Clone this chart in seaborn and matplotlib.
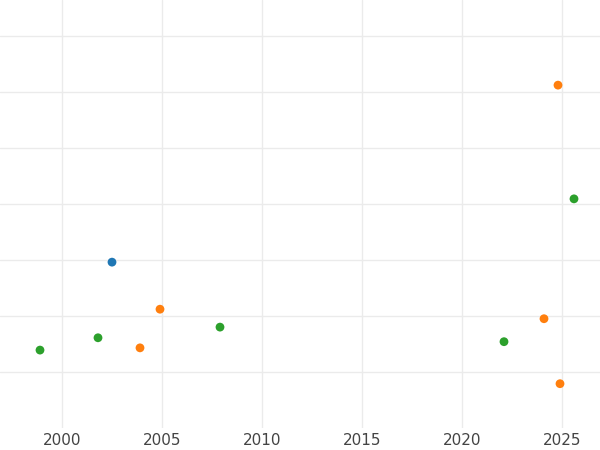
import matplotlib
matplotlib.use("Agg")
import matplotlib.pyplot as plt
import seaborn as sns
import pandas as pd

years = [2002.5, 2024.8, 2004.9, 2003.9, 2024.1, 2024.9,
         2025.6, 1998.9, 2001.8, 2007.9, 2022.1]
values = [2.96, 6.12, 2.12, 1.43, 1.95, 0.79,
          4.09, 1.39, 1.61, 1.80, 1.54]
groups = ["a", "b", "b", "b", "b", "b",
          "c", "c", "c", "c", "c"]

df = pd.DataFrame({"year": years, "value": values, "group": groups})

sns.set_style("whitegrid")
fig = plt.figure(figsize=(6, 4.5), dpi=100)
ax = fig.add_axes([0, 0.049, 1, 0.951])
sns.scatterplot(data=df, x="year", y="value", hue="group",
                palette=["#1f77b4", "#ff7f0e", "#2ca02c"],
                s=40, linewidth=0, legend=False, ax=ax)

ax.set_xlim(1996.9, 2026.9)
ax.set_ylim(0, 7.64)
ax.set_xticks([2000, 2005, 2010, 2015, 2020, 2025])
ax.set_yticks(range(1, 8))
ax.set_yticklabels([])
ax.tick_params(axis="x", labelsize=11, colors="#444444", length=0)
ax.tick_params(axis="y", length=0)
ax.grid(color="#ebebeb", linewidth=1)
for s in ax.spines.values():
    s.set_visible(False)
ax.set_xlabel("")
ax.set_ylabel("")
fig.savefig("out.png")
